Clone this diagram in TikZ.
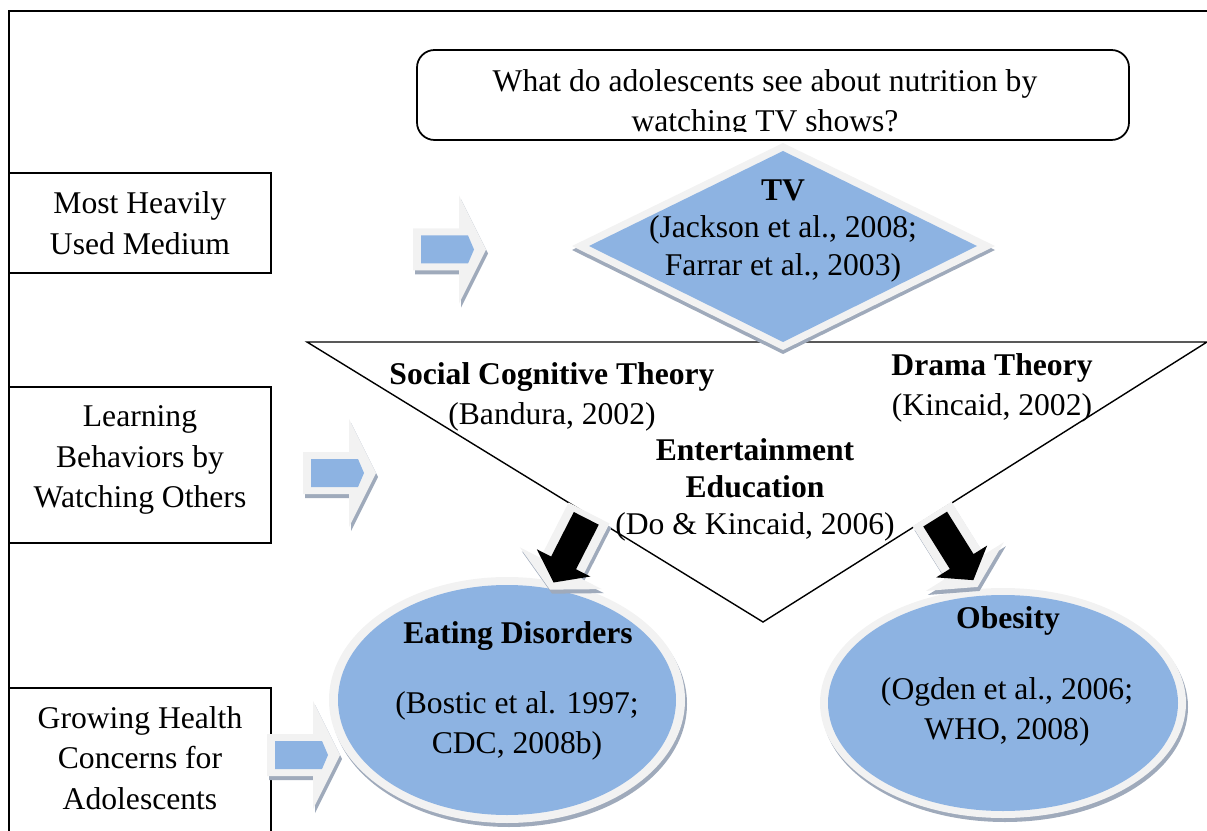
\documentclass[tikz,border=0pt]{standalone}
\usepackage{fontspec}
\setmainfont{Liberation Serif}
\definecolor{boxblue}{HTML}{8DB3E2}
\definecolor{rimgray}{HTML}{F2F2F2}
\definecolor{shadegray}{HTML}{9FAABB}
\tikzset{txt/.style={font=\fontsize{18}{23}\selectfont, align=center, inner sep=0pt},
  tighttxt/.style={txt, font=\fontsize{18}{21.2}\selectfont}}

\begin{document}
\begin{tikzpicture}[x=0.02cm, y=-0.02cm, every node/.style={txt}]
\useasboundingbox (0,0) rectangle (1207,831);
\clip (0,0) rectangle (1207,831);

% frame and left column
\draw [line width=1.1pt] (9,840) -- (9,11) -- (1220,11);
\draw [line width=0.7pt] (9,173) rectangle (271,273);
\draw [line width=0.7pt] (9,387) rectangle (271,543);
\draw [line width=0.7pt] (9,688) rectangle (271,840);

% triangle of theories
\draw [line width=0.8pt] (307,342) -- (1207,342) -- (763,622) -- cycle;

% question box
\draw [line width=1pt, rounded corners=10pt, fill=white] (417,50) rectangle (1129,140);

% TV diamond
\fill [shadegray] (783,147) -- (995,250) -- (783,354) -- (572,250) -- cycle;
\fill [rimgray] (783,143) -- (995,246) -- (783,350) -- (572,246) -- cycle;
\fill [boxblue] (783,151) -- (977,246) -- (783,342) -- (589,246) -- cycle;

% outcome ellipses
\fill [shadegray] (509,704) ellipse [x radius=178, y radius=123];
\fill [rimgray] (507,700) ellipse [x radius=178, y radius=123];
\fill [boxblue] (507,700) ellipse [x radius=169, y radius=115];
\fill [shadegray] (1005,707) ellipse [x radius=183, y radius=115];
\fill [rimgray] (1003,703) ellipse [x radius=183, y radius=115];
\fill [boxblue] (1003,703) ellipse [x radius=175, y radius=108];

% black arrows
\foreach \ax/\ay/\ang in {589/513/-117, 932/514/-58} {
  \fill [shadegray, shift={(\ax+2,\ay+4)}, rotate=\ang] (0,-23) -- (62,-23) -- (62,-46) -- (86,0) -- (62,46) -- (62,23) -- (0,23) -- cycle;
  \begin{scope}[shift={(\ax,\ay)}, rotate=\ang]
    \fill [rimgray] (0,-23) -- (62,-23) -- (62,-46) -- (86,0) -- (62,46) -- (62,23) -- (0,23) -- cycle;
    \fill [black] (6,-14) -- (56,-14) -- (56,-30) -- (78,0) -- (56,30) -- (56,14) -- (6,14) -- cycle;
  \end{scope}
}

% blue arrows
\foreach \ax/\ay in {413/249.5, 303/473, 267/755} {
  \begin{scope}[shift={(\ax,\ay)}]
    \fill [shadegray, shift={(2,4)}] (0,-21) -- (46,-21) -- (46,-54) -- (73,0) -- (46,54) -- (46,21) -- (0,21) -- cycle;
    \fill [rimgray] (0,-21) -- (46,-21) -- (46,-54) -- (73,0) -- (46,54) -- (46,21) -- (0,21) -- cycle;
    \fill [boxblue] (8,-14) -- (55,-14) -- (61,0) -- (55,14) -- (8,14) -- cycle;
  \end{scope}
}

% texts
\node (medium) at (140,223) {Most Heavily\\Used Medium};
\node (learning) at (140,460) {Learning\\Behaviors by\\Watching Others};
\node (concerns) at (140,758) {Growing Health\\Concerns for\\Adolescents};
\begin{scope}
\clip (417,50) rectangle (1129,132);
\node (question) at (765,104) {What do adolescents see about nutrition by\\watching TV shows?};
\end{scope}
\node (tv) [tighttxt] at (783,231) {\textbf{TV}\\(Jackson et al., 2008;\\Farrar et al., 2003)};
\node (social) at (552,397) {\textbf{Social Cognitive Theory}\\(Bandura, 2002)};
\node (drama) at (992,388) {\textbf{Drama Theory}\\(Kincaid, 2002)};
\node (edutain) [tighttxt] at (755,490) {\textbf{Entertainment}\\\textbf{Education}\\(Do \& Kincaid, 2006)};
\node (eating) [anchor=base] at (518,643) {\textbf{Eating Disorders}};
\node (eatingref) at (517,726) {(Bostic et al. 1997;\\CDC, 2008b)};
\node (obesity) [anchor=base] at (1008,628) {\textbf{Obesity}};
\node (obesityref) at (1007,712) {(Ogden et al., 2006;\\WHO, 2008)};
\end{tikzpicture}
\end{document}
